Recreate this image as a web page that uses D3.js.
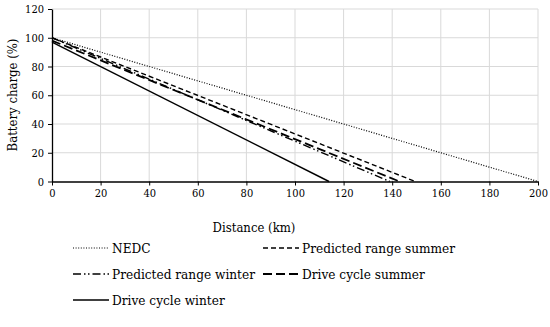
<!DOCTYPE html>
<html>
<head>
<meta charset="utf-8">
<script src="https://cdn.jsdelivr.net/npm/d3@7"></script>
<style>
body{margin:0;background:#fff;}
</style>
</head>
<body>
<script>
// series: [distance km, battery %] end points
var seriesNames = ["NEDC","Predicted range summer","Predicted range winter","Drive cycle summer","Drive cycle winter"];
var nedc = [[0,100],[200,0]];
var predSummer = [[0,100],[149.5,0]];
var predWinter = [[0,100],[139,0]];
var driveSummer = [[0,98],[143,0]];
var driveWinter = [[0,97],[114,0]];
var xTicks = [0,20,40,60,80,100,120,140,160,180,200];
var yTicks = [0,20,40,60,80,100,120];

var W = 550, H = 327;
var FONT = "'DejaVu Serif Condensed','DejaVu Serif'";
var svg = d3.select("body").append("svg").attr("width",W).attr("height",H)
	.style("font-family",FONT);

var x = d3.scaleLinear().domain([0,200]).range([52, 538]);
var y = d3.scaleLinear().domain([0,120]).range([181.5, 9]);

// gridlines
svg.append("g").selectAll("line").data(xTicks.slice(1)).enter().append("line")
	.attr("x1",function(d){return x(d);}).attr("x2",function(d){return x(d);})
	.attr("y1",y(0)).attr("y2",y(120))
	.style("stroke","#d9d9d9").style("stroke-width",1);
svg.append("g").selectAll("line").data(yTicks.slice(1)).enter().append("line")
	.attr("x1",x(0)).attr("x2",x(200))
	.attr("y1",function(d){return y(d);}).attr("y2",function(d){return y(d);})
	.style("stroke","#d9d9d9").style("stroke-width",1);

// axes
var xAxis = svg.append("g").attr("transform","translate(0," + y(0) + ")")
	.call(d3.axisBottom(x).tickValues(xTicks).tickSize(4).tickSizeOuter(0));
var yAxis = svg.append("g").attr("transform","translate(" + x(0) + ",0)")
	.call(d3.axisLeft(y).tickValues(yTicks).tickSize(4).tickSizeOuter(0));
[xAxis,yAxis].forEach(function(a){
	a.attr("font-family",null).attr("font-size",null);
	a.select(".domain").style("stroke","#000").style("stroke-width",1.3);
	a.selectAll(".tick line").style("stroke","#000");
	a.selectAll("text").style("font-family",FONT).style("font-size","11px").style("fill","#000");
});
xAxis.selectAll("text").attr("dy","0.9em").attr("y",6);
yAxis.selectAll("text").attr("x",-8);

// lines
var styles = [
	{data:nedc, dash:"1,1.6", w:1.2},
	{data:predSummer, dash:"5,3", w:1.4},
	{data:predWinter, dash:"8,3,1.5,2.5,1.5,3", w:1.4},
	{data:driveSummer, dash:"9,4", w:1.8},
	{data:driveWinter, dash:null, w:1.4}
];
var line = d3.line().x(function(d){return x(d[0]);}).y(function(d){return y(d[1]);});
svg.append("g").selectAll("path").data(styles).enter().append("path")
	.attr("d",function(d){return line(d.data);})
	.style("fill","none").style("stroke","#000")
	.style("stroke-width",function(d){return d.w;})
	.style("stroke-dasharray",function(d){return d.dash;});

// axis titles
svg.append("text").attr("x",254).attr("y",232).attr("text-anchor","middle")
	.style("font-family",FONT).style("font-size","13px").text("Distance (km)");
svg.append("text").attr("transform","translate(17,95) rotate(-90)").attr("text-anchor","middle")
	.style("font-family",FONT).style("font-size","13px").text("Battery charge (%)");

// legend
var legPos = [[73,253],[263,253],[73,279],[263,279],[73,305]];
var leg = svg.append("g").selectAll("g").data(styles).enter().append("g")
	.attr("transform",function(d,i){return "translate(" + legPos[i][0] + "," + legPos[i][1] + ")";});
leg.append("line").attr("x1",0).attr("x2",36).attr("y1",-5).attr("y2",-5)
	.style("stroke","#000")
	.style("stroke-width",function(d){return d.w;})
	.style("stroke-dasharray",function(d){return d.dash;});
leg.append("text").attr("x",39).style("font-family",FONT).style("font-size","13.5px")
	.text(function(d,i){return seriesNames[i];});
</script>
</body>
</html>
